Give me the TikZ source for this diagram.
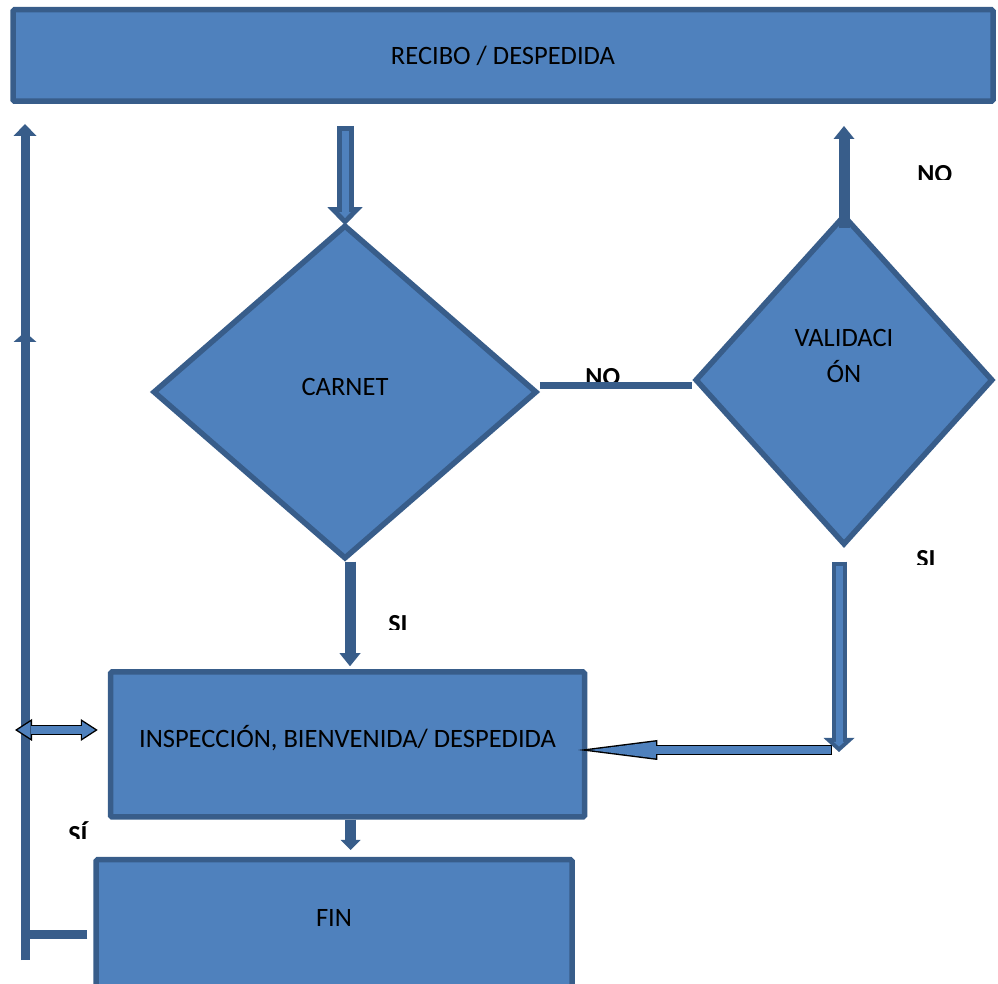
\documentclass[tikz,border=0pt]{standalone}
\usepackage{fontspec}
\setmainfont{Carlito}
\usetikzlibrary{shapes.geometric,arrows.meta}
\definecolor{boxfill}{HTML}{4F81BD}
\definecolor{boxline}{HTML}{385D8A}

\begin{document}
\begin{tikzpicture}[x=0.5pt,y=-0.5pt,
  box/.style={draw=boxline,line width=2.75pt,fill=boxfill,inner sep=2pt,rounded corners=0.75pt,font=\fontsize{13.25}{18}\selectfont},
  dia/.style={box,diamond,align=center,rounded corners=0pt},
  tag/.style={font=\bfseries\fontsize{13}{15}\selectfont,inner sep=0pt,anchor=base west},
  flow/.style={draw=boxline,line width=5.5pt,-{Triangle[width=10.5pt,length=6.5pt,line width=0pt]}}]
\useasboundingbox (0,0) rectangle (998,984);

% boxes and decisions
\node[box,minimum width=490pt,minimum height=45.75pt] (recibo) at (503,55.5) {RECIBO / DESPEDIDA};
\node[dia,minimum width=192pt,minimum height=167pt,text depth=5pt] (carnet) at (345,392) {CARNET};
\node[dia,minimum width=149pt,minimum height=165pt,
  label={[font=\fontsize{13.25}{18}\selectfont,align=center,yshift=12pt]center:VALIDACI\\ÓN}] (valid) at (844,380) {};
\node[box,minimum width=237pt,minimum height=72.5pt,text depth=8pt] (insp) at (347.5,744.5) {INSPECCIÓN, BIENVENIDA/ DESPEDIDA};
\node[box,anchor=north,minimum width=238pt,minimum height=75pt,text depth=17pt] (fin) at (334,857) {FIN};

\coordinate (vturn) at (839,750);
\coordinate (lbot) at (25,960);
\coordinate (lmid) at (25,393);
\coordinate (lhead) at (25,332);
\coordinate (dbl) at (25,730);

% answers
\begin{scope}
\clip (900,150) rectangle (970,180) (570,350) rectangle (640,384) (900,535) rectangle (960,565)
  (370,600) rectangle (430,630) (50,805) rectangle (110,839);
\node[tag] (no1) at (917,183) {NO};
\node[tag] (no2) at (585,386) {NO};
\node[tag] (si1) at (916,568) {SI};
\node[tag] (si2) at (388,633) {SI};
\node[tag] (si3) at (68,844) {SÍ};
\end{scope}

\draw[boxline,line width=3.5pt] ([yshift=3pt]carnet.east) -- ([yshift=3pt]carnet.east -| valid.west);

% recibo -> carnet
\draw[draw=boxline,line width=8.5pt,-{Triangle[width=17.5pt,length=9pt,line width=0pt]},
  shorten <=11pt,shorten >=-1.5pt] (recibo.south -| carnet.north) -- (carnet.north);
\draw[draw=boxfill,line width=3.5pt,-{Triangle[width=5.6pt,length=2.9pt,line width=0pt]},
  shorten <=13.5pt,shorten >=2.1pt] (recibo.south -| carnet.north) -- (carnet.north);

\draw[flow,shorten >=1.5pt] ([xshift=2.5pt]carnet.south) -- ([xshift=2.5pt]carnet.south |- insp.north);
\draw[flow,shorten <=-8pt,shorten >=11pt] (valid.north) -- (valid.north |- recibo.south);

% validacion -> inspeccion
\draw[draw=black,line width=5pt,-{Triangle[width=10pt,length=39.5pt,line width=0pt]},
  shorten <=3.5pt,shorten >=-4.5pt] (vturn) -- (insp.east |- vturn);
\draw[draw=boxfill,line width=3.6pt,-{Triangle[width=8.4pt,length=33.2pt,line width=0pt]},
  shorten <=4.2pt,shorten >=1.1pt] (vturn) -- (insp.east |- vturn);
\draw[draw=boxline,line width=7.5pt,-{Triangle[width=15.5pt,length=7pt,line width=0pt]},
  shorten <=7pt,shorten >=-1pt] (valid.south -| vturn) -- (vturn);
\draw[draw=boxfill,line width=3.5pt,-{Triangle[width=5.1pt,length=2.3pt,line width=0pt]},
  shorten <=9pt,shorten >=1.7pt] (valid.south -| vturn) -- (vturn);

\draw[flow,-{Triangle[width=10pt,length=5pt,line width=0pt]},shorten >=3.5pt]
  ([xshift=1.5pt]insp.south) -- ([xshift=1.5pt]insp.south |- fin.north);

% return line on the left
\draw[flow,line width=4.5pt,-{Triangle[width=11.5pt,length=6pt,line width=0pt]},shorten >=10pt]
  (lbot) -- (lbot |- recibo.south);
\draw[flow,line width=4.5pt,-{Triangle[width=11.5pt,length=5pt,line width=0pt]}] (lmid) -- (lhead);
\draw[boxline,line width=4.5pt,shorten <=3pt] (fin.west) -- (fin.west -| lbot);

\draw[draw=black,line width=5pt,{Triangle[width=11pt,length=8.5pt,line width=0pt]}-{Triangle[width=11pt,length=8.5pt,line width=0pt]},
  shorten <=-5pt,shorten >=5pt] (dbl) -- (dbl -| insp.west);
\draw[draw=boxfill,line width=3.6pt,{Triangle[width=8.4pt,length=6.5pt,line width=0pt]}-{Triangle[width=8.4pt,length=6.5pt,line width=0pt]},
  shorten <=-3.7pt,shorten >=6.3pt] (dbl) -- (dbl -| insp.west);
\end{tikzpicture}
\end{document}
